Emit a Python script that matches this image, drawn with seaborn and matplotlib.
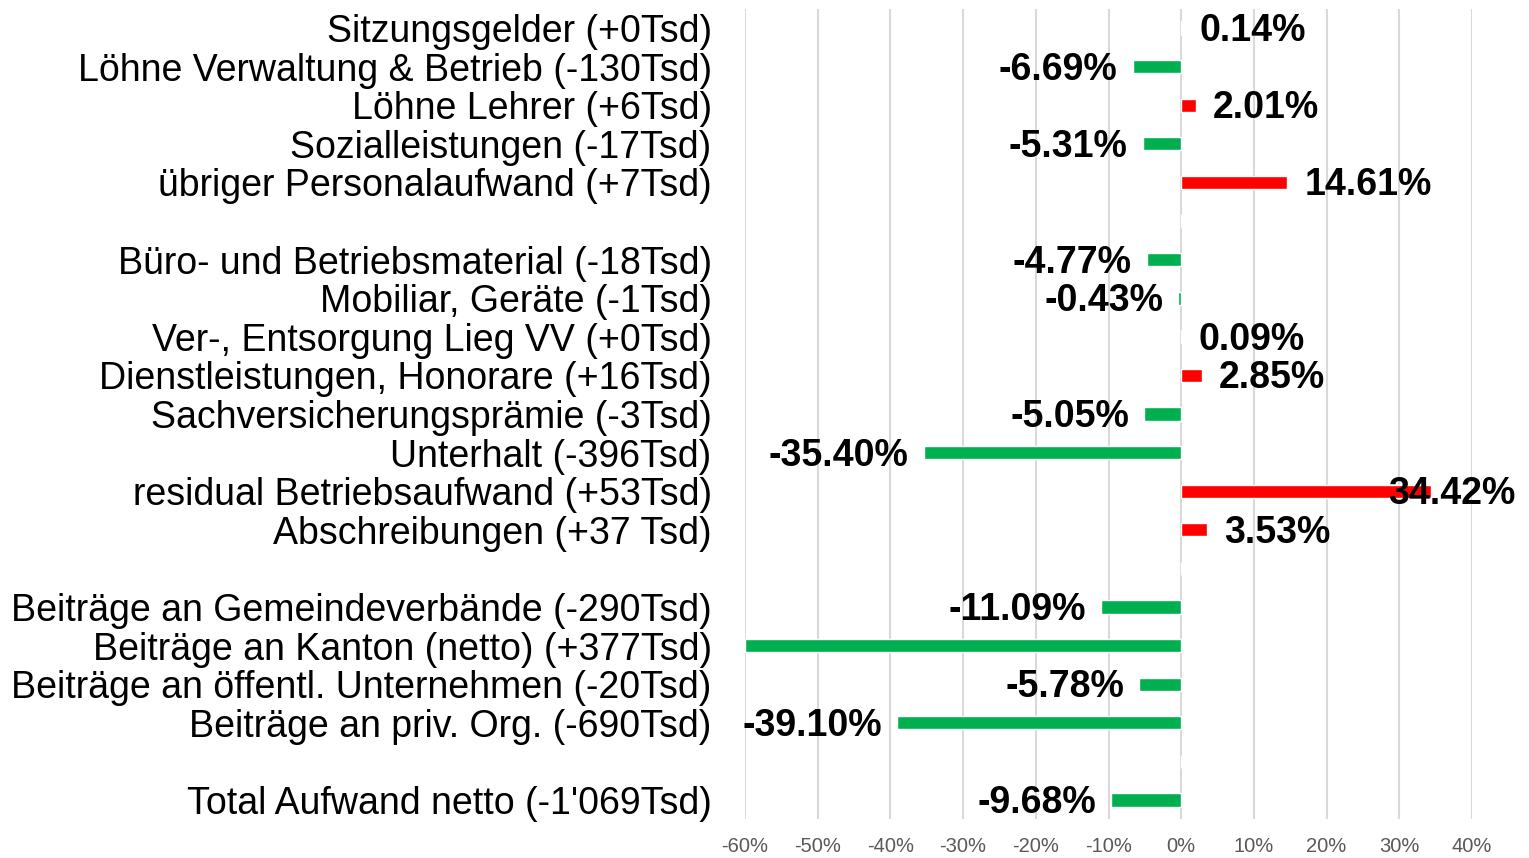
import matplotlib
matplotlib.use("Agg")
import matplotlib.pyplot as plt
import seaborn as sns
import pandas as pd
import numpy as np

# ---- data ----
categories = [
    "Sitzungsgelder (+0Tsd)",
    "Löhne Verwaltung & Betrieb (-130Tsd)",
    "Löhne Lehrer (+6Tsd)",
    "Sozialleistungen (-17Tsd)",
    "übriger Personalaufwand (+7Tsd)",
    " ",
    "Büro- und Betriebsmaterial (-18Tsd)",
    "Mobiliar, Geräte (-1Tsd)",
    "Ver-, Entsorgung Lieg VV (+0Tsd)",
    "Dienstleistungen, Honorare (+16Tsd)",
    "Sachversicherungsprämie (-3Tsd)",
    "Unterhalt (-396Tsd)",
    "residual Betriebsaufwand (+53Tsd)",
    "Abschreibungen (+37 Tsd)",
    "  ",
    "Beiträge an Gemeindeverbände (-290Tsd)",
    "Beiträge an Kanton (netto) (+377Tsd)",
    "Beiträge an öffentl. Unternehmen (-20Tsd)",
    "Beiträge an priv. Org. (-690Tsd)",
    "   ",
    "Total Aufwand netto (-1'069Tsd)",
]
values = [0.14, -6.69, 2.01, -5.31, 14.61, 0.0,
          -4.77, -0.43, 0.09, 2.85, -5.05, -35.40, 34.42, 3.53, 0.0,
          -11.09, -60.0, -5.78, -39.10, 0.0,
          -9.68]
value_labels = ["0.14%", "-6.69%", "2.01%", "-5.31%", "14.61%", "",
                "-4.77%", "-0.43%", "0.09%", "2.85%", "-5.05%", "-35.40%", "34.42%", "3.53%", "",
                "-11.09%", "", "-5.78%", "-39.10%", "",
                "-9.68%"]
xticks = [-60, -50, -40, -30, -20, -10, 0, 10, 20, 30, 40]
xtick_labels = ["-60%", "-50%", "-40%", "-30%", "-20%", "-10%", "0%", "10%", "20%", "30%", "40%"]

df = pd.DataFrame({"cat": categories, "val": values})
df["sign"] = np.where(df["val"] > 0, "pos", "neg")

sns.set_theme(style="white")
plt.rcParams["font.family"] = ["Liberation Sans", "DejaVu Sans"]

W, H = 1529, 858
fig = plt.figure(figsize=(W / 100, H / 100), dpi=100)
ax = fig.add_axes([745 / W, 1 - 819.3 / H, (1472 - 745) / W, (819.3 - 8.7) / H])

sns.barplot(data=df, y="cat", x="val", hue="sign", order=categories,
            palette={"pos": "#FF0000", "neg": "#00B050"}, dodge=False,
            width=0.34, legend=False, ax=ax, orient="h", saturation=1)

ax.set_xlim(-60, 40)
ax.set_ylim(len(categories) - 0.5, -0.5)
ax.set_xticks(xticks)
ax.set_xticklabels(xtick_labels, fontsize=14.5, color="#595959")
ax.tick_params(axis="x", length=0, pad=13)
ax.tick_params(axis="y", length=0, pad=24, labelsize=27, labelcolor="black")
for t in ax.get_yticklabels():
    t.set_y(t.get_position()[1])
ax.set_xlabel("")
ax.set_ylabel("")
for s in ax.spines.values():
    s.set_visible(False)
ax.grid(axis="x", color="#D9D9D9", linewidth=1.5)
ax.set_axisbelow(True)

FS = 27
for i, (v, lab) in enumerate(zip(values, value_labels)):
    if not lab:
        continue
    if v >= 0:
        dx = -43 if v > 30 else 17
        ax.annotate(lab, xy=(v, i), xytext=(dx, -3), textcoords="offset pixels",
                    ha="left", va="center", fontsize=FS, fontweight="bold", color="black")
    else:
        ax.annotate(lab, xy=(v, i), xytext=(-15, -3), textcoords="offset pixels",
                    ha="right", va="center", fontsize=FS, fontweight="bold", color="black")

fig.savefig("out.png", dpi=100)
